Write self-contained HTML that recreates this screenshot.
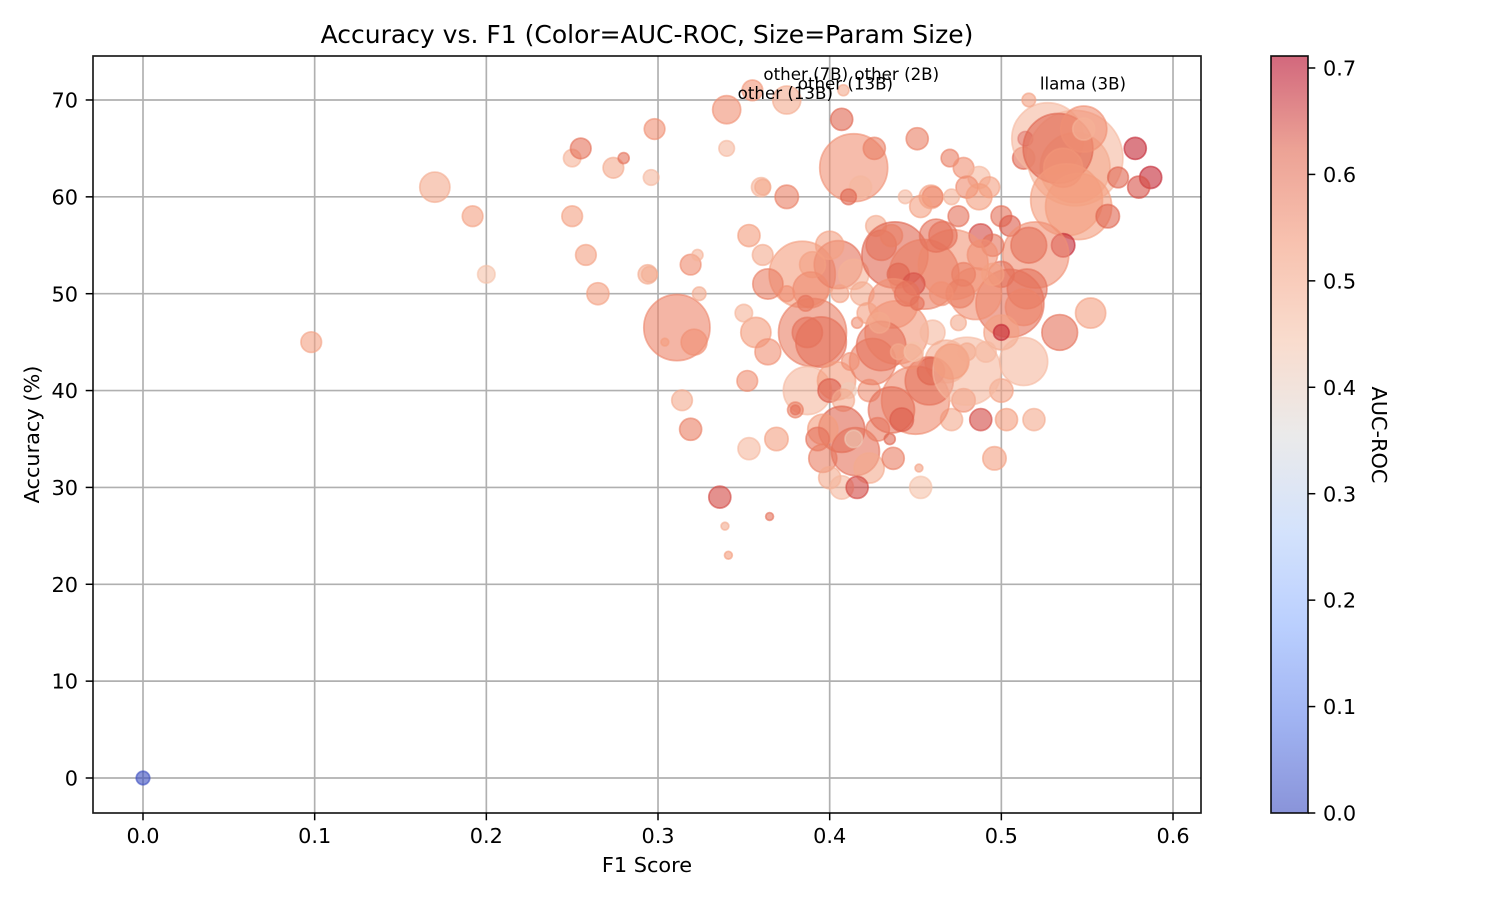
<!DOCTYPE html>
<html lang="en">
<head>
<meta charset="utf-8">
<title>Accuracy vs. F1</title>
<style>
html,body{margin:0;padding:0;background:#fff;}
svg{display:block;font-family:"DejaVu Sans","Liberation Sans",sans-serif;}
</style>
</head>
<body>
<svg id="chart" xmlns="http://www.w3.org/2000/svg" width="1500" height="900" viewBox="0 0 1500 900">
  <rect x="0" y="0" width="1500" height="900" fill="#fff"/>
  <g id="grid"></g>
  <g id="points"></g>
  <rect x="93" y="56" width="1108" height="757" fill="none" stroke="#000" stroke-width="1.67" opacity="0.9"/>
  <g id="xticks"></g>
  <g id="yticks"></g>
  <g id="notes"></g>
  <text x="647" y="43" text-anchor="middle" font-size="25" fill="#000">Accuracy vs. F1 (Color=AUC-ROC, Size=Param Size)</text>
  <text x="647" y="872" text-anchor="middle" font-size="20.83" fill="#000">F1 Score</text>
  <text transform="translate(39 434.5) rotate(-90)" text-anchor="middle" font-size="20.83" fill="#000">Accuracy (%)</text>
  <defs><linearGradient id="cbgrad" x1="0" y1="1" x2="0" y2="0"></linearGradient></defs>
  <rect x="1271" y="56" width="37" height="757" fill="url(#cbgrad)"/>
  <rect x="1271" y="56" width="37" height="757" fill="none" stroke="#000" stroke-width="1.67" opacity="0.9"/>
  <g id="cbticks"></g>
  <text transform="translate(1372 435) rotate(90)" text-anchor="middle" font-size="20.83" fill="#000">AUC-ROC</text>
</svg>
<script>
const f1Scores = [
0,.098,.17,.192,.2,.25,.255,.25,.258,.265,
.274,.28,.296,.298,.294,.295,.311,.304,.321,.319,
.323,.324,.314,.319,.336,.339,.341,.365,.34,.34,
.355,.375,.408,.407,.414,.426,.418,.411,.36,.361,
.375,.451,.47,.444,.459,.46,.453,.427,.478,.487,
.493,.48,.487,.471,.5,.475,.505,.513,.514,.527,
.543,.543,.533,.548,.548,.538,.545,.536,.516,.578,
.587,.58,.568,.562,.552,.534,.536,.52,.516,.488,
.495,.505,.515,.513,.5,.5,.513,.5,.384,.405,
.414,.4,.39,.389,.364,.353,.361,.375,.386,.406,
.419,.39,.395,.387,.357,.364,.35,.438,.43,.436,
.472,.455,.44,.449,.462,.466,.439,.437,.451,.445,
.475,.46,.468,.387,.404,.4,.411,.423,.408,.38,
.38,.352,.369,.353,.407,.396,.393,.396,.415,.414,
.423,.4,.407,.416,.428,.435,.437,.452,.453,.496,
.488,.503,.519,.471,.5,.478,.45,.436,.442,.458,
.459,.48,.471,.48,.491,.425,.43,.447,.44,.449,
.412,.416,.422,.429,.485,.478,.476,.489,.495,.465
];
const accuracyValues = [
0,45,61,58,52,64,65,58,54,50,
63,64,62,67,52,52,46.5,45,45,53,
54,50,39,36,29,26,23,27,69,65,
71,70,71,68,63,65,61,60,61,61,
60,66,64,60,60,60,59,57,63,62,
61,61,60,60,58,58,57,64,66,66,
64,63,65,67,67,59.7,59,63,70,65,
62,61,62,58,48,46,55,54,55,56,
55,49,50.5,48.6,46,46,43,52,52,53,
52,55,53,50.4,51,56,54,50,49,50,
50,46,45,46,46,44,48,54,55,56,
53,52,52,51,56,56,46,49,49,50,
47,46,43,40,41,40,40,40,39,38,
38,41,35,34,36,36,35,33,33.7,35,
32,31,30,30,36,35,33,32,30,33,
37,37,37,37,40,39,39,38,37,41,
42,42,43,44,44,43,44.6,43.5,44,44,
43,47,48,47,50,52,50,54,52,50
];
const paramSizesB = [
3,7,15,7,5,5,7,7,7,8,
7,2,4,7,6,4,72,1,11,7,
2,3,7,8,8,1,1,1,13,4,
7,13,2,8,76,8,8,4,6,4,
9,8,5,3,9,7,8,7,7,8,
7,8,11,4,7,7,7,8,3.5,85,
150,80,80,35,8,85,72,25,3,8,
8,8,7,9,15,21,9,72,21,9,
8,76,26,22,20,4,38,11,72,38,
15,13,11,21,15,8,7,4,4,5,
9,76,42,15,15,11,5,72,15,8,
80,80,8,8,18,13,66,40,3,10,
4,10,30,38,24,9,4,8,8,4,
1.5,7,9,8,35,15,9,13,38,5,
15,8,9,8,9,2,8,1,8,9,
8,8,8,8,9,9,76,35,9,38,
12,76,20,5,7,35,40,10,4,6,
5,2,7,7,44,9,13,15,8,9
];
const aucValues = [
0,.52,.5,.52,.45,.48,.6,.52,.52,.52,
.5,.6,.47,.55,.5,.49,.57,.53,.55,.56,
.48,.5,.5,.58,.65,.5,.53,.6,.55,.47,
.54,.5,.5,.62,.55,.58,.47,.62,.48,.5,
.58,.58,.58,.47,.52,.56,.52,.5,.55,.47,
.52,.56,.53,.48,.6,.6,.63,.62,.68,.47,
.47,.5,.62,.55,.48,.53,.53,.54,.52,.68,
.68,.64,.62,.62,.52,.6,.68,.55,.6,.65,
.6,.6,.6,.57,.52,.68,.47,.6,.53,.6,
.48,.52,.52,.56,.58,.53,.5,.55,.6,.52,
.5,.58,.6,.6,.53,.55,.48,.62,.6,.58,
.54,.58,.62,.64,.6,.6,.54,.55,.6,.6,
.5,.47,.5,.47,.53,.63,.42,.55,.5,.58,
.6,.55,.52,.47,.62,.53,.6,.58,.6,.42,
.5,.5,.47,.65,.58,.62,.58,.52,.45,.52,
.65,.53,.5,.5,.52,.55,.56,.6,.63,.6,
.62,.47,.53,.5,.47,.58,.6,.55,.5,.45,
.55,.55,.52,.5,.55,.58,.58,.55,.52,.55
];
const annotationLabels = ["other (13B)","other (7B)","other (13B)","other (2B)","llama (3B)"];
const annotationF1 = [.34,.355,.375,.408,.516];
const annotationAccuracy = [69,71,70,71,70];
const xTickValues = [0,.1,.2,.3,.4,.5,.6];
const xTickLabels = ["0.0","0.1","0.2","0.3","0.4","0.5","0.6"];
const yTickValues = [0,10,20,30,40,50,60,70];
const yTickLabels = ["0","10","20","30","40","50","60","70"];
const colorbarTickValues = [0,.1,.2,.3,.4,.5,.6,.7];
const colorbarTickLabels = ["0.0","0.1","0.2","0.3","0.4","0.5","0.6","0.7"];
const aucMax = 0.711;

const NS = "http://www.w3.org/2000/svg";
const xScale = function (v) { return 143 + v * 1716.7; };
const yScale = function (v) { return 778 - v * 9.686; };
const sizeScale = function (b) { return 3.9 * Math.sqrt(b); };
const cbScale = function (v) { return 813 - v * 1064.3; };
const coolwarm = [[59,76,192],[98,130,234],[141,176,254],[184,208,249],[221,220,220],[245,196,172],[244,154,123],[224,101,79],[180,4,38]];
function cmap(t) {
  t = Math.max(0, Math.min(1, t));
  const p = t * (coolwarm.length - 1);
  const i = Math.min(Math.floor(p), coolwarm.length - 2);
  const k = p - i;
  const c = [0,1,2].map(function (j) { return Math.round(coolwarm[i][j] + (coolwarm[i + 1][j] - coolwarm[i][j]) * k); });
  return "rgb(" + c.join(",") + ")";
}
function make(tag, parentId, attrs) {
  const el = document.createElementNS(NS, tag);
  Object.keys(attrs).forEach(function (k) { el.setAttribute(k, attrs[k]); });
  document.getElementById(parentId).appendChild(el);
  return el;
}

xTickValues.forEach(function (v, i) {
  const px = xScale(v);
  const g = make("line", "grid", {x1: px, x2: px, y1: 56, y2: 813, stroke: "#b0b0b0", "stroke-width": 1.67});
  
  
  const t = make("line", "xticks", {x1: px, x2: px, y1: 813, y2: 820.3, stroke: "#000", "stroke-width": 1.5});
  
  
  const l = make("text", "xticks", {x: px, y: 843, "text-anchor": "middle", "font-size": 20.83, fill: "#000"});
  
  
  l.textContent = xTickLabels[i];
});
yTickValues.forEach(function (v, i) {
  const py = yScale(v);
  const g = make("line", "grid", {x1: 93, x2: 1201, y1: py, y2: py, stroke: "#b0b0b0", "stroke-width": 1.67});
  
  
  const t = make("line", "yticks", {x1: 85.7, x2: 93, y1: py, y2: py, stroke: "#000", "stroke-width": 1.5});
  
  
  const l = make("text", "yticks", {x: 78, y: py + 7.6, "text-anchor": "end", "font-size": 20.83, fill: "#000"});
  
  
  l.textContent = yTickLabels[i];
});
f1Scores.forEach(function (f, i) {
  const col = cmap(aucValues[i] / aucMax);
  const c = make("circle", "points", {cx: xScale(f), cy: yScale(accuracyValues[i]), r: sizeScale(paramSizesB[i]), fill: col, "fill-opacity": 0.6, stroke: col, "stroke-opacity": 0.6, "stroke-width": 1.7});
  
  
});
annotationLabels.forEach(function (label, i) {
  const t = make("text", "notes", {x: xScale(annotationF1[i]) + 11, y: yScale(annotationAccuracy[i]) - 10.5, "font-size": 16.67, fill: "#000"});
  
  
  t.textContent = label;
});
const grad = document.getElementById("cbgrad");
for (let i = 0; i <= 32; i++) {
  const s = document.createElementNS(NS, "stop");
  s.setAttribute("offset", (i / 32));
  s.setAttribute("stop-color", cmap(i / 32));
  s.setAttribute("stop-opacity", 0.6);
  grad.appendChild(s);
}
colorbarTickValues.forEach(function (v, i) {
  const py = cbScale(v);
  const t = make("line", "cbticks", {x1: 1308, x2: 1315.3, y1: py, y2: py, stroke: "#000", "stroke-width": 1.5});
  
  
  const l = make("text", "cbticks", {x: 1323, y: py + 7.6, "font-size": 20.83, fill: "#000"});
  
  
  l.textContent = colorbarTickLabels[i];
});
</script>
</body>
</html>
